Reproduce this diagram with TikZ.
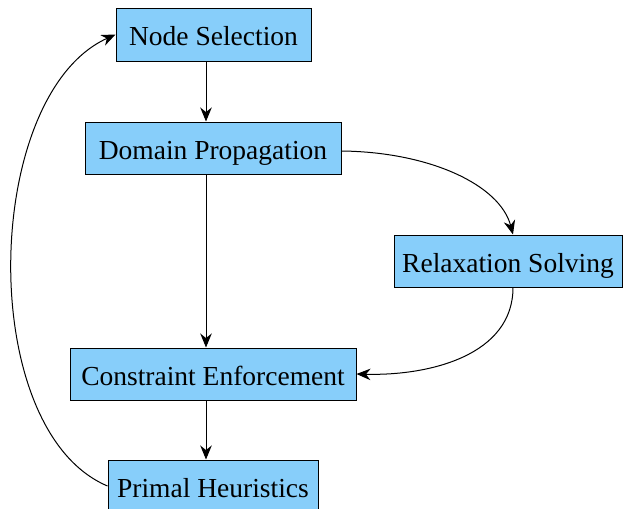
\documentclass[tikz,border=0pt]{standalone}
\usepackage{fontspec}
\setmainfont{Liberation Serif}
\usetikzlibrary{arrows.meta}
\definecolor{boxblue}{HTML}{87CEFA}
\tikzset{
  stage/.style={draw=black, fill=boxblue, line width=1pt, rectangle,
    inner sep=0pt, text height=22pt, text depth=0pt,
    font=\fontsize{27.5}{32}\selectfont},
  flow/.style={draw=black, line width=1pt, -{Stealth[length=14pt,width=11.5pt]}}
}
\begin{document}
\begin{tikzpicture}[x=1pt,y=-1pt]
\useasboundingbox (0,0) rectangle (625,509);
\node[stage, minimum width=195pt, minimum height=53pt] (ns) at (213.5,34.5) {Node Selection};
\node[stage, minimum width=256pt, minimum height=52pt] (dp) at (213,148) {Domain Propagation};
\node[stage, minimum width=228pt, minimum height=52pt] (rs) at (508,261) {Relaxation Solving};
\node[stage, minimum width=286pt, minimum height=52pt] (ce) at (213,374) {Constraint Enforcement};
\node[stage, minimum width=210pt, minimum height=52pt] (ph) at (213,486) {Primal Heuristics};
\coordinate (rsin) at ([xshift=5pt]rs.north);
\coordinate (rsout) at ([xshift=5pt]rs.south);
\draw[flow] (ns.south -| 206,0) -- (dp.north -| 206,0);
\draw[flow] (dp.south -| 206,0) -- (ce.north -| 206,0);
\draw[flow] (ce.south -| 206,0) -- (ph.north -| 206,0);
\draw[flow] (dp.east |- 0,151) .. controls (430,152) and (500,185) .. (rsin);
\draw[flow] (rsout) .. controls (513,355) and (430,376) .. (ce.east);
\draw[flow] (ph.west) .. controls (-25,430) and (-18,95) .. (ns.west);
\end{tikzpicture}
\end{document}
